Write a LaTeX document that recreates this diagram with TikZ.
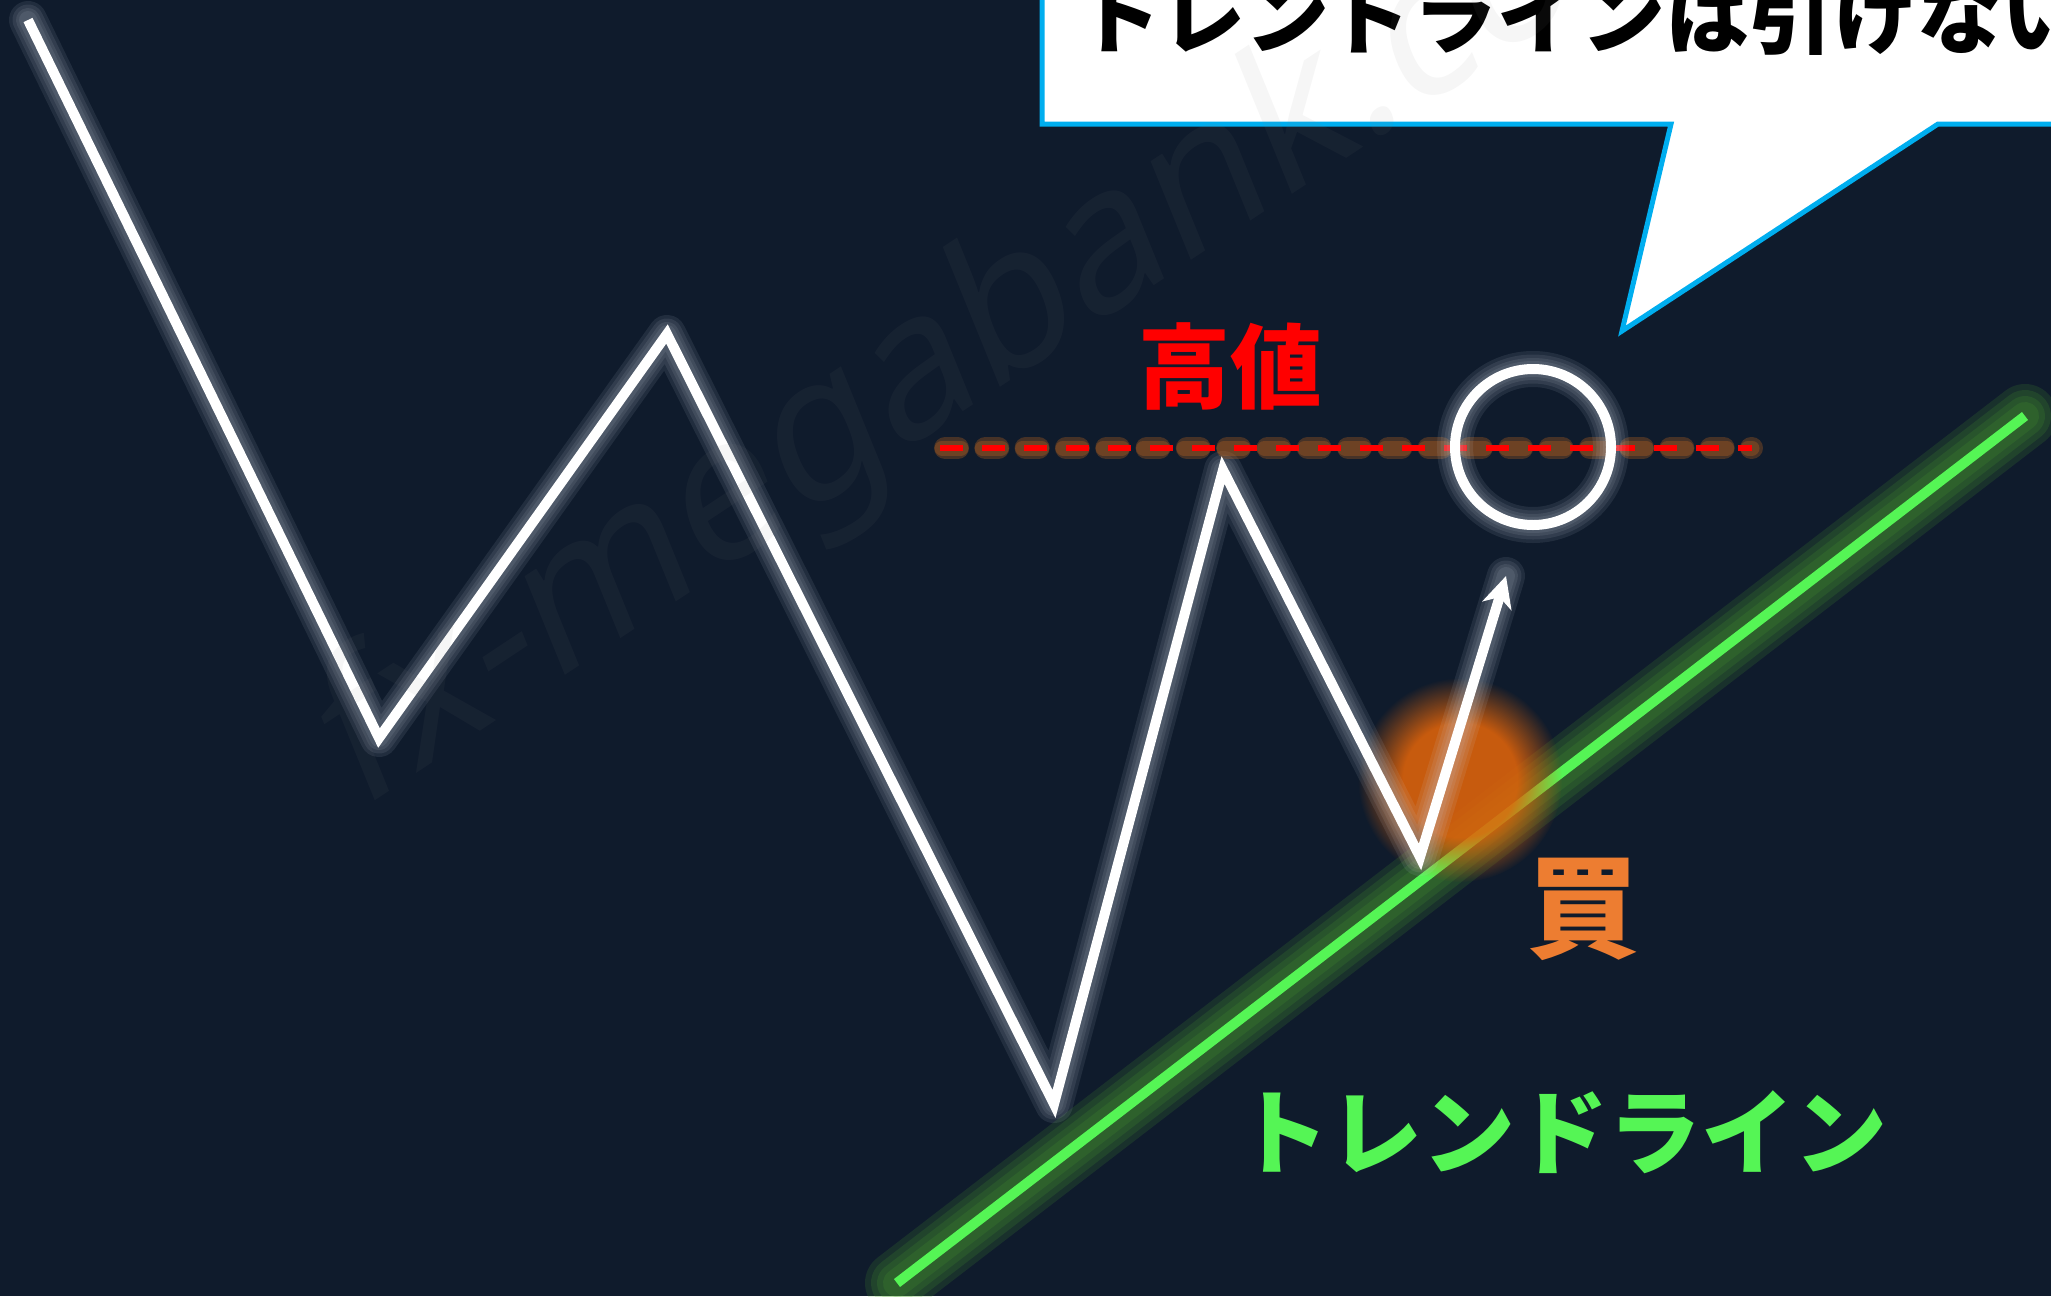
\documentclass[tikz,border=0pt]{standalone}
\usepackage{fontspec}
\newfontfamily\jp{Noto Sans CJK JP}
\newfontfamily\wmfont{Noto Sans}[FakeSlant=0.2]
\usetikzlibrary{arrows.meta,fadings}
\definecolor{bgc}{RGB}{15,27,44}
\definecolor{glowc}{RGB}{200,210,222}
\definecolor{tlgreen}{RGB}{85,245,85}
\definecolor{tlglow}{RGB}{80,170,50}
\definecolor{buyc}{RGB}{237,125,49}
\definecolor{blobc}{RGB}{225,100,10}
\definecolor{dashglow}{RGB}{200,105,30}
\definecolor{bubbleblue}{RGB}{0,174,239}
\definecolor{highred}{RGB}{255,0,0}
\pgfdeclareradialshading{blobshade}{\pgfpointorigin}{color(0bp)=(white); color(14bp)=(white); color(25bp)=(black); color(50bp)=(black)}
\pgfdeclarefading{blobfade}{\pgfuseshading{blobshade}}
\tikzset{
  whiteline/.style={draw=white, line width=10pt, line join=miter},
  whiteglow/.style={draw=glowc, opacity=0.1, line join=round, line cap=round},
  greenline/.style={draw=tlgreen, line width=10pt},
  greenglow/.style={draw=tlglow, opacity=0.16, line cap=round},
  reddash/.style={draw=highred, line width=6pt, dash pattern=on 23pt off 19pt},
  dashhaloA/.style={draw=dashglow, line width=22pt, opacity=0.3, line cap=round, dash pattern=on 13pt off 27.3pt},
  dashhaloB/.style={draw=dashglow, line width=15pt, opacity=0.3, line cap=round, dash pattern=on 19pt off 21.3pt},
  bubble/.style={draw=bubbleblue, fill=white, line width=5pt, line join=miter},
  jplabel/.style={inner sep=0pt, font=\jp\bfseries},
}
\begin{document}
\begin{tikzpicture}[x=1pt,y=-1pt]
\useasboundingbox (0,0) rectangle (2051,1296);
\clip (0,0) rectangle (2051,1296);
\fill[bgc] (0,0) rectangle (2051,1296);

% coordinates
\coordinate (P0) at (28,20);
\coordinate (P1) at (379,738);
\coordinate (P2) at (667,334);
\coordinate (P3) at (1054,1104);
\coordinate (P4) at (1223,470);
\coordinate (P5) at (1420,857);
\coordinate (T) at (1506,576);
\coordinate (G1) at (897,1283);
\coordinate (G2) at (2025,416);
\coordinate (D1) at (940,448);
\coordinate (D2) at (1752,448);
\coordinate (H1) at (945,448);
\coordinate (H2) at (1752,448);
\coordinate (H3) at (942,448);
\coordinate (C) at (1533,447);
\coordinate (B) at (1460,780);

% trend line with glow
\foreach \w in {64,52,40,28}
  \draw[greenglow, line width=\w pt] (G1) -- (G2);
\draw[greenline] (G1) -- (G2);

% orange blob
\fill[blobc, path fading=blobfade, fill opacity=0.88] (B) circle (102pt);

% zigzag glow and line
\foreach \w in {38,31,24,18}
  \draw[whiteglow, line width=\w pt] (P0) -- (P1) -- (P2) -- (P3) -- (P4) -- (P5) -- (T);
\draw[whiteline, -{Stealth[length=31pt, width=30pt, inset=9pt]}] (P0) -- (P1) -- (P2) -- (P3) -- (P4) -- (P5) -- (T);

% high line
\draw[dashhaloA] (H1) -- (H2);
\draw[dashhaloB] (H3) -- (H2);
\draw[reddash] (D1) -- (D2);

% circle
\foreach \w in {36,29,22,16}
  \draw[whiteglow, line width=\w pt] (C) circle (78pt);
\draw[white, line width=10pt] (C) circle (78pt);

% labels
\node[jplabel, text=highred, font=\jp\bfseries\fontsize{92pt}{92pt}\selectfont] (high) at (1230,366) {高値};
\node[jplabel, text=buyc, font=\jp\bfseries\fontsize{112pt}{112pt}\selectfont] (buy) at (1583,909) {買};
\node[jplabel, text=tlgreen, font=\jp\bfseries\fontsize{93pt}{93pt}\selectfont] (tl) at (1562,1132) {トレンドライン};

% speech bubble
\coordinate (Q1) at (1042,-60);
\coordinate (Q2) at (1042,124);
\coordinate (Q3) at (1671,124);
\coordinate (Q4) at (1622,331);
\coordinate (Q5) at (1938,124);
\coordinate (Q6) at (2100,124);
\coordinate (Q7) at (2100,-60);
\draw[bubble] (Q1) -- (Q2) -- (Q3) -- (Q4) -- (Q5) -- (Q6) -- (Q7) -- cycle;
\node[jplabel, anchor=base west, text=black, font=\jp\bfseries\fontsize{84pt}{84pt}\selectfont] (btext) at (1077,47) {トレンドラインは引けない};

% watermark
\node[inner sep=0pt, anchor=base west, rotate=33.5, text=gray, opacity=0.07, font=\wmfont\fontsize{195pt}{195pt}\selectfont] (wm) at (357,813) {fx-megabank.com};
\end{tikzpicture}
\end{document}
